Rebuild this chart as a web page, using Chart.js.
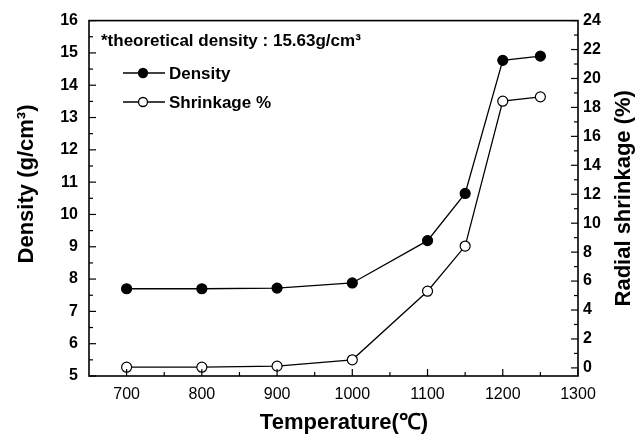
<!DOCTYPE html>
<html>
<head>
<meta charset="utf-8">
<script src="https://cdn.jsdelivr.net/npm/chart.js@4"></script>
<style>
  html, body { margin: 0; padding: 0; background: #fff; }
  #wrap { width: 638px; height: 436px; }
</style>
</head>
<body>
<div id="wrap"><canvas id="chart" width="638" height="436"></canvas></div>
<script>
'use strict';

const temperatures = [700, 800, 900, 1000, 1100, 1150, 1200, 1250];
const density = [7.7, 7.7, 7.72, 7.88, 9.19, 10.65, 14.77, 14.9];
const shrinkage = [0.05, 0.05, 0.12, 0.56, 5.3, 8.42, 18.43, 18.73];

const xTicks = [700, 800, 900, 1000, 1100, 1200, 1300];
const densityTicks = [5, 6, 7, 8, 9, 10, 11, 12, 13, 14, 15, 16];
const shrinkTicks = [0, 2, 4, 6, 8, 10, 12, 14, 16, 18, 20, 22, 24];

const FONT = '"Liberation Sans", Arial, sans-serif';

function toPoints(ys) {
  return temperatures.map((t, i) => ({ x: t, y: ys[i] }));
}

function fixedTicks(values) {
  return scale => { scale.ticks = values.map(v => ({ value: v })); };
}

// frame, inward ticks, titles and the in-plot legend
const decorations = {
  id: 'decorations',
  afterDraw(chart) {
    const { ctx, chartArea: a, scales } = chart;
    ctx.save();
    ctx.strokeStyle = '#000';
    ctx.fillStyle = '#000';
    ctx.lineWidth = 1.6;
    ctx.strokeRect(a.left, a.top, a.right - a.left, a.bottom - a.top);

    ctx.lineWidth = 1.2;
    const tick = (x1, y1, x2, y2) => {
      ctx.beginPath(); ctx.moveTo(x1, y1); ctx.lineTo(x2, y2); ctx.stroke();
    };
    for (let v = 5; v <= 16; v += 0.5) {
      const y = scales.y.getPixelForValue(v);
      tick(a.left, y, a.left + (v % 1 === 0 ? 7 : 4), y);
    }
    for (let v = 0; v <= 24; v += 1) {
      const y = scales.y1.getPixelForValue(v);
      tick(a.right, y, a.right - (v % 2 === 0 ? 7 : 4), y);
    }
    for (let v = 700; v <= 1300; v += 50) {
      const x = scales.x.getPixelForValue(v);
      tick(x, a.bottom, x, a.bottom - (v % 100 === 0 ? 7 : 4));
    }

    // axis titles
    ctx.font = 'bold 22px ' + FONT;
    ctx.textAlign = 'center';
    ctx.textBaseline = 'middle';
    ctx.fillText('Temperature(\u2103)', 344, 423);

    const midY = (a.top + a.bottom) / 2;
    ctx.save();
    ctx.translate(27, 184);
    ctx.rotate(-Math.PI / 2);
    ctx.fillText('Density (g/cm\u00b3)', 0, 0);
    ctx.restore();

    ctx.save();
    ctx.translate(624, midY);
    ctx.rotate(-Math.PI / 2);
    ctx.fillText('Radial shrinkage (%)', 0, 0);
    ctx.restore();

    // note and legend
    ctx.textAlign = 'left';
    ctx.font = 'bold 17px ' + FONT;
    ctx.fillText('*theoretical density : 15.63g/cm\u00b3', 101, 41);

    const rows = [
      { label: 'Density', y: 73, fill: '#000' },
      { label: 'Shrinkage %', y: 102, fill: '#fff' }
    ];
    rows.forEach(r => {
      ctx.lineWidth = 1.3;
      tick(123, r.y, 165, r.y);
      ctx.beginPath();
      ctx.arc(143, r.y, 4.5, 0, Math.PI * 2);
      ctx.fillStyle = r.fill;
      ctx.fill();
      ctx.stroke();
      ctx.fillStyle = '#000';
      ctx.fillText(r.label, 169, r.y + 1);
    });
    ctx.restore();
  }
};

new Chart(document.getElementById('chart'), {
  type: 'line',
  data: {
    datasets: [
      {
        label: 'Density',
        data: toPoints(density),
        yAxisID: 'y',
        borderColor: '#000',
        borderWidth: 1.3,
        pointBackgroundColor: '#000',
        pointBorderColor: '#000',
        pointRadius: 5,
        pointBorderWidth: 1.2
      },
      {
        label: 'Shrinkage %',
        data: toPoints(shrinkage),
        yAxisID: 'y1',
        borderColor: '#000',
        borderWidth: 1.3,
        pointBackgroundColor: '#fff',
        pointBorderColor: '#000',
        pointRadius: 5,
        pointBorderWidth: 1.2
      }
    ]
  },
  options: {
    responsive: false,
    animation: false,
    layout: { padding: { top: 18, left: 0, right: 0, bottom: 0 } },
    plugins: { legend: { display: false }, tooltip: { enabled: false } },
    scales: {
      x: {
        type: 'linear',
        min: 650,
        max: 1300,
        afterBuildTicks: fixedTicks(xTicks),
        afterFit: s => { s.height = 60; },
        grid: { display: false, drawTicks: false },
        border: { display: false },
        ticks: {
          color: '#000', padding: 9, maxRotation: 0,
          font: { family: FONT, size: 16 },
          callback: v => String(v)
        }
      },
      y: {
        position: 'left',
        min: 5,
        max: 16,
        afterBuildTicks: fixedTicks(densityTicks),
        afterFit: s => { s.width = 89; },
        grid: { display: false, drawTicks: false },
        border: { display: false },
        ticks: { color: '#000', padding: 11, font: { family: FONT, size: 16, weight: 'bold' } }
      },
      y1: {
        position: 'right',
        min: -0.56,
        max: 24,
        afterBuildTicks: fixedTicks(shrinkTicks),
        afterFit: s => { s.width = 60; },
        grid: { display: false, drawTicks: false },
        border: { display: false },
        ticks: { color: '#000', padding: 5, font: { family: FONT, size: 16, weight: 'bold' } }
      }
    }
  },
  plugins: [decorations]
});
</script>
</body>
</html>
